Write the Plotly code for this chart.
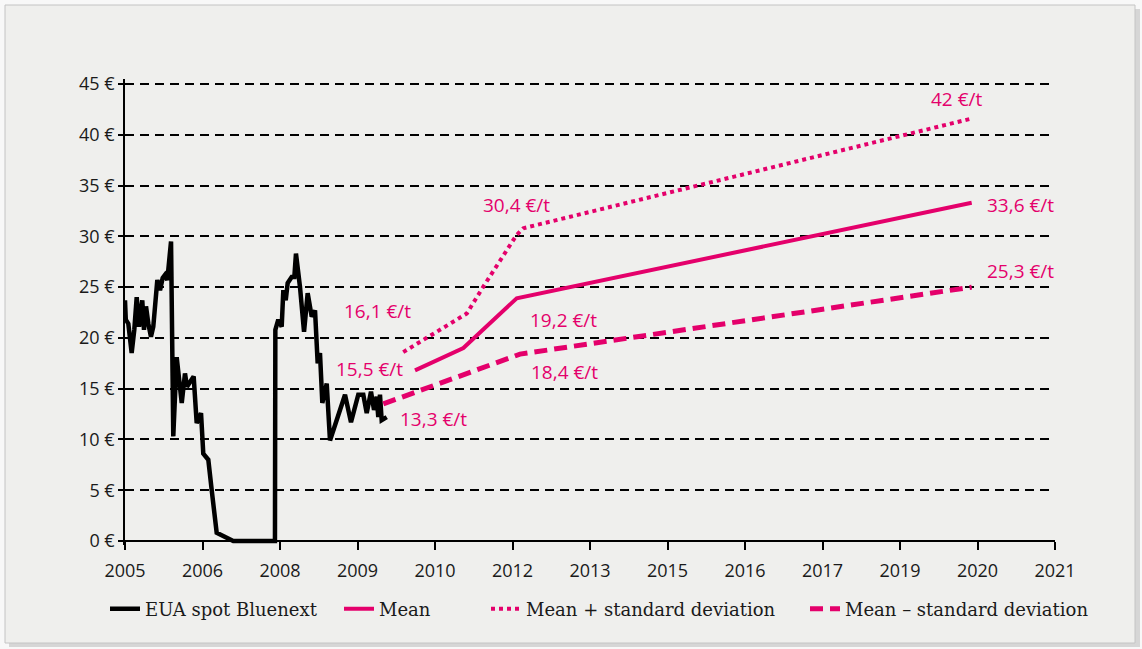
import plotly.graph_objects as go

# ---- data (x in axis-tick units: 0 = first tick "2005", 12 = last tick "2021") ----
tick_labels = ["2005", "2006", "2008", "2009", "2010", "2012", "2013",
               "2015", "2016", "2017", "2019", "2020", "2021"]
y_ticks = [0, 5, 10, 15, 20, 25, 30, 35, 40, 45]

eua_x = [0, 0.01, 0.043, 0.086, 0.12, 0.151, 0.181, 0.223, 0.245, 0.271, 0.301, 0.335,
         0.365, 0.417, 0.452, 0.486, 0.516, 0.546, 0.594, 0.623, 0.667, 0.697, 0.732,
         0.774, 0.8, 0.852, 0.886, 0.925, 0.981, 1.01, 1.075, 1.119, 1.183, 1.397,
         1.935, 1.94, 1.978, 2.022, 2.043, 2.074, 2.099, 2.151, 2.185, 2.206, 2.258,
         2.31, 2.357, 2.409, 2.452, 2.486, 2.516, 2.546, 2.603, 2.645, 2.732, 2.839,
         2.916, 3.01, 3.075, 3.119, 3.174, 3.213, 3.248, 3.268, 3.29, 3.312, 3.377]
eua_y = [23.7, 21.8, 21.4, 18.5, 20.8, 24.0, 21.1, 23.7, 20.8, 23.1, 21.4, 20.1,
         21.1, 25.7, 24.7, 25.9, 26.2, 25.7, 29.5, 10.3, 18.1, 16.2, 13.6,
         16.5, 15.2, 15.8, 16.2, 11.6, 12.6, 8.6, 8.0, 5.0, 0.8, 0,
         0, 20.8, 21.8, 21.1, 24.7, 23.7, 25.4, 26.0, 26.0, 28.3, 25.0,
         20.6, 24.4, 22.1, 22.7, 17.5, 18.5, 13.6, 15.5, 9.9, 11.9, 14.4,
         11.7, 14.4, 14.4, 12.6, 14.7, 12.9, 14.2, 12.2, 14.4, 11.9, 12.2]

mean_x = [3.742, 4.366, 5.054, 10.925]
mean_y = [16.8, 19.0, 23.9, 33.3]

plus_x = [3.59, 4.41, 4.62, 4.84, 5.05, 5.14, 10.925]
plus_y = [18.6, 22.4, 25.0, 27.7, 30.1, 30.8, 41.6]

minus_x = [3.333, 5.097, 10.925]
minus_y = [13.5, 18.4, 25.0]

label_texts = ["42 €/t", "33,6 €/t", "25,3 €/t", "30,4 €/t", "19,2 €/t",
               "18,4 €/t", "16,1 €/t", "15,5 €/t", "13,3 €/t"]
label_x = [10.735, 11.55, 11.55, 5.054, 5.655, 5.677, 3.255, 3.161, 3.978]
label_y = [43.5, 33.1, 26.6, 33.1, 21.75, 16.6, 22.6, 16.9, 12.0]

# ---- styling ----
PINK = "#E4006B"
TICK_FONT = dict(family="Open Sans", size=18, color="#1a1a1a")
LEG_FONT = dict(family="DejaVu Serif", size=18, color="#1a1a1a")

W, H = 1142, 649
ML, MR, MT, MB = 125, 87, 79, 104
plot_h = H - MT - MB
px_per = (541 - 84) / 45.0
y_top = 45 + (84 - MT) / px_per
y_bot = -((H - MB) - 541) / px_per

fig = go.Figure()
fig.add_trace(go.Scatter(x=eua_x, y=eua_y, mode="lines", name="EUA spot Bluenext",
                         line=dict(color="#000000", width=4.5), legend="legend"))
fig.add_trace(go.Scatter(x=mean_x, y=mean_y, mode="lines", name="Mean",
                         line=dict(color=PINK, width=4), legend="legend2"))
fig.add_trace(go.Scatter(x=plus_x, y=plus_y, mode="lines", name="Mean + standard deviation",
                         line=dict(color=PINK, width=4, dash="4px,4px"), legend="legend3"))
fig.add_trace(go.Scatter(x=minus_x, y=minus_y, mode="lines", name="Mean – standard deviation",
                         line=dict(color=PINK, width=5, dash="13px,7px"), legend="legend4"))

for t, x, y in zip(label_texts, label_x, label_y):
    fig.add_annotation(x=x, y=y, text=t, showarrow=False, xanchor="center", yanchor="middle",
                       font=dict(family="Open Sans", size=19, color=PINK))

# card background
def px2paper_x(p):
    return (p - ML) / (W - ML - MR)

def px2paper_y(p):
    return ((H - MB) - p) / plot_h

fig.add_shape(type="rect", xref="paper", yref="paper", layer="below",
              x0=px2paper_x(9), x1=px2paper_x(1140), y0=px2paper_y(647), y1=px2paper_y(9),
              fillcolor="#d6d6d6", line=dict(width=0))
fig.add_shape(type="rect", xref="paper", yref="paper", layer="below",
              x0=px2paper_x(5), x1=px2paper_x(1135), y0=px2paper_y(643), y1=px2paper_y(5),
              fillcolor="#efefed", line=dict(color="#c4c4c4", width=1))

leg_common = dict(xref="container", yref="container", orientation="h", xanchor="left",
                  yanchor="middle", bgcolor="rgba(0,0,0,0)", borderwidth=0, font=LEG_FONT,
                  y=1 - 609 / H)

fig.update_layout(
    width=W, height=H,
    margin=dict(l=ML, r=MR, t=MT, b=MB, autoexpand=False),
    paper_bgcolor="#f8f8f8",
    plot_bgcolor="rgba(0,0,0,0)",
    showlegend=True,
    legend=dict(leg_common, x=105 / W),
    legend2=dict(leg_common, x=339 / W),
    legend3=dict(leg_common, x=486 / W),
    legend4=dict(leg_common, x=805 / W),
    xaxis=dict(range=[0, 12], tickmode="array", tickvals=list(range(len(tick_labels))),
               ticktext=tick_labels, showgrid=False, zeroline=False,
               showline=True, linecolor="#000", linewidth=1.5,
               ticks="outside", ticklen=8, tickwidth=1.5, tickcolor="#000",
               ticklabelstandoff=6, automargin=False,
               tickfont=TICK_FONT, anchor="free", position=(-y_bot) / (y_top - y_bot)),
    yaxis=dict(range=[y_bot, y_top], tickmode="array", tickvals=y_ticks,
               ticktext=[f"{v} €" for v in y_ticks], showgrid=True, gridcolor="#000",
               gridwidth=1.5, griddash="9px,6px", zeroline=False, showline=True,
               linecolor="#000", linewidth=1.5, ticks="outside", ticklen=5, tickwidth=1.5,
               tickcolor="#000", tickfont=TICK_FONT, automargin=False),
)

fig.write_html("out.html", config={"displayModeBar": False},
               post_script="document.body.style.margin='0';document.body.style.overflow='hidden';")
